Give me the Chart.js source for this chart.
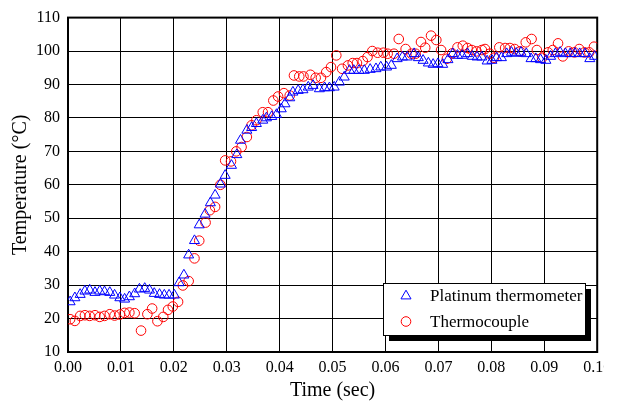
<!DOCTYPE html>
<html>
<head>
<meta charset="utf-8">
<script src="https://cdn.jsdelivr.net/npm/chart.js"></script>
<style>
  html, body { margin: 0; padding: 0; background: #fff; overflow: hidden; }
  canvas { display: block; }
</style>
</head>
<body>
<canvas id="myChart" width="604" height="403"></canvas>
<script>
// datos
const platinumTime = [
  0.0004, 0.0013, 0.0023, 0.0032, 0.0041, 0.0051, 0.0060, 0.0069, 0.0079, 0.0088, 0.0098,
  0.0107, 0.0116, 0.0126, 0.0135, 0.0145, 0.0154, 0.0163, 0.0173, 0.0182, 0.0191, 0.0201,
  0.0210, 0.0219, 0.0228, 0.0239, 0.0248, 0.0259, 0.0269, 0.0278, 0.0288, 0.0297, 0.0309,
  0.0319, 0.0326, 0.0338, 0.0347, 0.0356, 0.0368, 0.0375, 0.0385, 0.0394, 0.0403, 0.0410,
  0.0419, 0.0425, 0.0435, 0.0444, 0.0454, 0.0463, 0.0475, 0.0485, 0.0494, 0.0503, 0.0513,
  0.0522, 0.0532, 0.0540, 0.0550, 0.0560, 0.0571, 0.0582, 0.0591, 0.0602, 0.0611, 0.0622,
  0.0632, 0.0641, 0.0654, 0.0662, 0.0671, 0.0681, 0.0690, 0.0699, 0.0708, 0.0718, 0.0727,
  0.0736, 0.0745, 0.0755, 0.0764, 0.0773, 0.0782, 0.0792, 0.0801, 0.0810, 0.0819, 0.0829,
  0.0838, 0.0847, 0.0856, 0.0866, 0.0875, 0.0884, 0.0893, 0.0903, 0.0912, 0.0921, 0.0930,
  0.0940, 0.0949, 0.0958, 0.0967, 0.0977, 0.0986, 0.0995
];
const platinumTemp = [
  25.0, 26.2, 27.2, 28.2, 28.5, 27.8, 28.2, 28.0, 27.8, 27.0, 26.2,
  25.8, 26.5, 27.4, 28.8, 29.0, 28.5, 27.5, 27.2, 27.0, 27.0, 27.0,
  30.7, 33.0, 39.0, 43.3, 48.0, 51.2, 54.6, 56.9, 60.2, 62.8, 65.8,
  69.0, 73.3, 76.3, 77.1, 78.3, 79.3, 80.0, 80.4, 81.0, 82.7, 84.2,
  86.0, 87.7, 88.2, 88.4, 89.2, 89.7, 88.7, 89.0, 89.0, 89.2, 90.7,
  92.2, 94.2, 94.2, 94.2, 94.2, 94.5, 94.7, 95.2, 95.2, 95.7, 97.7,
  98.2, 98.2, 99.2, 98.0, 97.2, 96.4, 96.0, 96.2, 96.0, 97.4, 99.2,
  98.7, 98.7, 99.2, 98.4, 98.2, 98.2, 97.0, 97.2, 98.0, 98.0, 99.2,
  99.6, 99.3, 99.6, 99.2, 97.7, 97.7, 97.4, 97.2, 98.4, 99.2, 99.6,
  99.2, 99.2, 99.3, 99.2, 99.2, 97.7, 98.4
];
const thermoTime = [
  0.0004, 0.0013, 0.0023, 0.0032, 0.0041, 0.0051, 0.0060, 0.0069, 0.0079, 0.0088, 0.0098,
  0.0107, 0.0116, 0.0126, 0.0138, 0.0150, 0.0159, 0.0169, 0.0180, 0.0189, 0.0198, 0.0208,
  0.0217, 0.0228, 0.0239, 0.0248, 0.0260, 0.0268, 0.0278, 0.0288, 0.0297, 0.0308, 0.0318,
  0.0328, 0.0338, 0.0347, 0.0356, 0.0368, 0.0378, 0.0388, 0.0397, 0.0408, 0.0419, 0.0427,
  0.0437, 0.0445, 0.0458, 0.0468, 0.0478, 0.0488, 0.0497, 0.0507, 0.0518, 0.0529, 0.0538,
  0.0546, 0.0557, 0.0566, 0.0575, 0.0585, 0.0596, 0.0604, 0.0616, 0.0625, 0.0638, 0.0649,
  0.0657, 0.0667, 0.0675, 0.0686, 0.0696, 0.0705, 0.0716, 0.0726, 0.0736, 0.0746, 0.0755,
  0.0763, 0.0772, 0.0782, 0.0788, 0.0797, 0.0805, 0.0815, 0.0826, 0.0835, 0.0844, 0.0854,
  0.0865, 0.0876, 0.0886, 0.0896, 0.0907, 0.0916, 0.0926, 0.0935, 0.0946, 0.0957, 0.0966,
  0.0976, 0.0985, 0.0994
];
const thermoTemp = [
  19.8, 19.3, 20.8, 21.0, 20.8, 21.0, 20.5, 20.8, 21.3, 20.9, 21.2,
  21.7, 21.8, 21.6, 16.4, 21.3, 23.0, 19.2, 20.5, 22.6, 23.6, 25.0,
  29.9, 31.2, 38.0, 43.3, 48.7, 52.4, 53.4, 60.0, 67.3, 67.0, 70.0,
  71.3, 74.3, 77.8, 79.3, 81.7, 81.7, 85.2, 86.4, 87.4, 86.7, 92.7,
  92.4, 92.4, 92.9, 92.0, 92.0, 93.7, 95.2, 98.7, 94.7, 95.7, 96.4,
  96.4, 97.0, 98.2, 100.0, 99.5, 99.5, 99.2, 99.2, 103.6, 100.6, 99.2,
  99.2, 102.7, 101.0, 104.6, 103.3, 100.3, 97.7, 99.3, 101.1, 101.6, 100.9,
  100.3, 99.9, 100.3, 100.6, 99.2, 98.0, 101.1, 100.9, 100.9, 100.6, 99.9,
  102.6, 103.6, 100.3, 98.0, 99.6, 100.3, 102.3, 98.4, 99.9, 99.6, 100.6,
  99.6, 99.6, 101.3
];
const seriesNames = ["Platinum thermometer", "Thermocouple"];
const xTitle = "Time (sec)";
const yTitle = "Temperature (°C)";

const fuente = "'Liberation Serif', 'Times New Roman', serif";

// marco del area de la grafica
const marco = {
  id: 'marco',
  beforeDatasetsDraw(chart) {
    const { ctx, chartArea: a } = chart;
    ctx.save();
    ctx.strokeStyle = '#000';
    ctx.lineWidth = 2;
    ctx.strokeRect(a.left, a.top, a.right - a.left, a.bottom - a.top);
    ctx.restore();
  }
};

// leyenda con sombra dentro de la grafica
const leyenda = {
  id: 'leyenda',
  afterDraw(chart) {
    const ctx = chart.ctx;
    const x = 383, y = 283, w = 202, h = 52;
    ctx.save();
    ctx.fillStyle = '#000';
    ctx.fillRect(x + 6, y + 6, w, h);
    ctx.fillStyle = '#fff';
    ctx.fillRect(x, y, w, h);
    ctx.strokeStyle = '#000';
    ctx.lineWidth = 1;
    ctx.strokeRect(x + 0.5, y + 0.5, w, h);
    chart.data.datasets.forEach((ds, i) => {
      const cy = y + 13 + i * 25.5;
      ctx.strokeStyle = ds.borderColor;
      ctx.fillStyle = 'rgba(0,0,0,0)';
      ctx.lineWidth = 1;
      Chart.helpers.drawPoint(ctx, {
        pointStyle: ds.pointStyle,
        radius: ds.pointRadius,
        rotation: 0,
        borderWidth: 1
      }, x + 23, cy);
      ctx.fillStyle = '#000';
      ctx.font = '17px ' + fuente;
      ctx.textBaseline = 'middle';
      ctx.textAlign = 'left';
      ctx.fillText(ds.label, x + 47, cy + 1);
    });
    ctx.restore();
  }
};

const ctx = document.getElementById('myChart');

new Chart(ctx, {
  type: 'scatter',
  data: {
    datasets: [
      {
        label: seriesNames[0],
        data: platinumTime.map((t, i) => ({ x: t, y: platinumTemp[i] })),
        pointStyle: 'triangle',
        pointRadius: 5.8,
        borderColor: '#0000ff',
        backgroundColor: 'rgba(0,0,0,0)',
        borderWidth: 1,
        clip: 0
      },
      {
        label: seriesNames[1],
        data: thermoTime.map((t, i) => ({ x: t, y: thermoTemp[i] })),
        pointStyle: 'circle',
        pointRadius: 4.8,
        borderColor: '#ff0000',
        backgroundColor: 'rgba(0,0,0,0)',
        borderWidth: 1,
        clip: 0
      }
    ]
  },
  options: {
    responsive: false,
    animation: false,
    events: [],
    layout: { padding: { left: 0, right: 5, top: 16, bottom: 0 } },
    plugins: {
      legend: { display: false },
      tooltip: { enabled: false }
    },
    scales: {
      x: {
        type: 'linear',
        min: 0,
        max: 0.1,
        afterFit(s) { s.height = 51; s.paddingLeft = 0; s.paddingRight = 0; },
        ticks: {
          stepSize: 0.01,
          color: '#000',
          padding: 6,
          maxRotation: 0,
          font: { family: fuente, size: 16 },
          callback: v => v.toFixed(2)
        },
        grid: { color: '#000', lineWidth: 1, drawTicks: false },
        border: { display: false },
        title: {
          display: true,
          text: xTitle,
          color: '#000',
          font: { family: fuente, size: 20 },
          padding: { top: 0, bottom: 0 }
        }
      },
      y: {
        min: 10,
        max: 110,
        afterFit(s) { s.width = 68; },
        ticks: {
          stepSize: 10,
          color: '#000',
          padding: 8,
          font: { family: fuente, size: 16 }
        },
        grid: { color: '#000', lineWidth: 1, drawTicks: false },
        border: { display: false },
        title: {
          display: true,
          text: yTitle,
          color: '#000',
          font: { family: fuente, size: 20 },
          padding: { top: 9, bottom: 0 }
        }
      }
    }
  },
  plugins: [marco, leyenda]
});
</script>
</body>
</html>
